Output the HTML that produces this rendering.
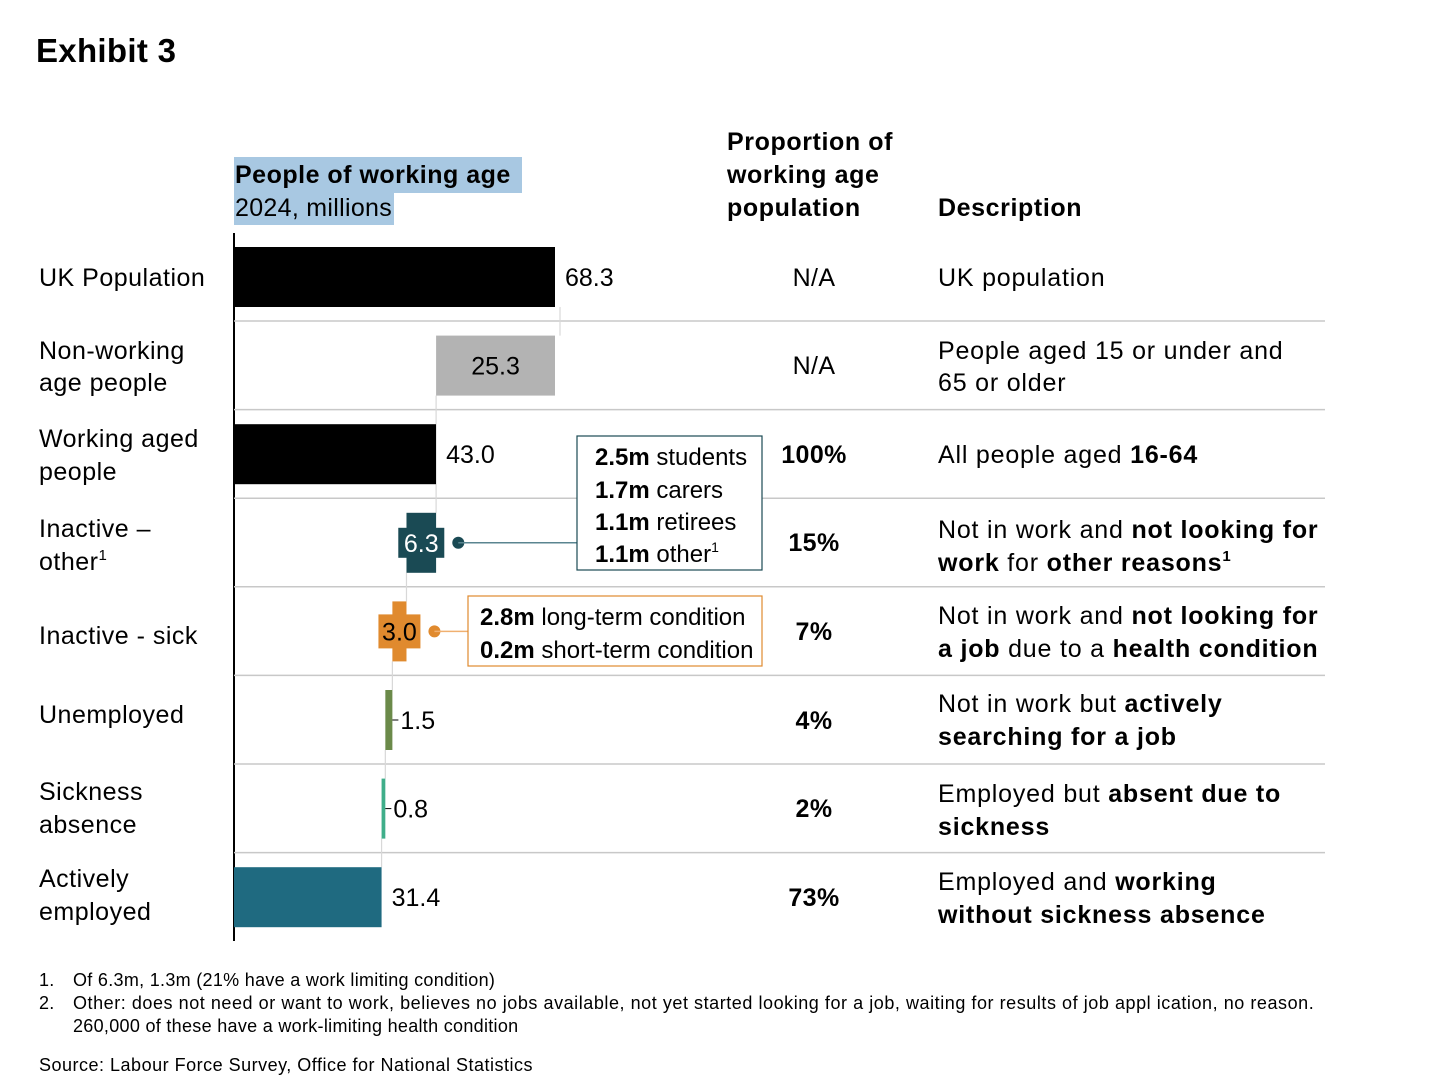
<!DOCTYPE html>
<html><head><meta charset="utf-8"><style>
html,body{margin:0;padding:0;background:#fff;}
svg{display:block;font-family:"Liberation Sans",Arial,sans-serif;}
</style></head><body>
<svg id="chart" width="1456" height="1084" viewBox="0 0 1456 1084">
<text x="36" y="62" font-size="33" font-weight="bold" letter-spacing="0.3">Exhibit 3</text>
<rect x="234" y="157" width="288" height="36" fill="#a8c8e2"/>
<rect x="234" y="192" width="160" height="33" fill="#a8c8e2"/>
<text x="235" y="183" font-size="25" font-weight="bold" letter-spacing="0.5">People of working age</text>
<text x="235" y="216" font-size="25" letter-spacing="0.3">2024, millions</text>
<g font-size="25" font-weight="bold" letter-spacing="0.6">
<text x="727" y="150">Proportion of</text><text x="727" y="183">working age</text><text x="727" y="216">population</text></g>
<text x="938" y="216" font-size="25" font-weight="bold" letter-spacing="0.6">Description</text>
<line x1="234" y1="233" x2="234" y2="941" stroke="#000" stroke-width="2"/>
<g id="seps"></g>
<g id="bars"></g>
<g id="labels" font-size="25"></g>

<g>
<rect x="577" y="436" width="185" height="134" fill="#fff" stroke="#1a4a54" stroke-width="1.2"/>
<g font-size="24"><text x="595" y="465"><tspan font-weight="bold">2.5m</tspan> students</text>
<text x="595" y="498"><tspan font-weight="bold">1.7m</tspan> carers</text>
<text x="595" y="530"><tspan font-weight="bold">1.1m</tspan> retirees</text>
<text x="595" y="562"><tspan font-weight="bold">1.1m</tspan> other<tspan font-size="14" dy="-10">1</tspan></text></g></g>
<g>
<rect x="468" y="596" width="294" height="70" fill="#fff" stroke="#e08a2e" stroke-width="1.2"/>
<g font-size="24"><text x="480" y="625"><tspan font-weight="bold">2.8m</tspan> long-term condition</text>
<text x="480" y="658"><tspan font-weight="bold">0.2m</tspan> short-term condition</text></g></g>

<g font-size="25" text-anchor="middle" letter-spacing="0.4">
<text x="814" y="286">N/A</text><text x="814" y="374">N/A</text>
<text x="814" y="463" font-weight="bold">100%</text><text x="814" y="551" font-weight="bold">15%</text>
<text x="814" y="640" font-weight="bold">7%</text><text x="814" y="729" font-weight="bold">4%</text>
<text x="814" y="817" font-weight="bold">2%</text><text x="814" y="906" font-weight="bold">73%</text></g>

<g font-size="25" letter-spacing="0.8">
<text x="938" y="286">UK population</text>
<text x="938" y="359">People aged 15 or under and</text><text x="938" y="391">65 or older</text>
<text x="938" y="463">All people aged  <tspan font-weight="bold">16-64</tspan></text>
<text x="938" y="538">Not in work and  <tspan font-weight="bold">not looking for</tspan></text>
<text x="938" y="571"><tspan font-weight="bold">work</tspan> for <tspan font-weight="bold">other reasons</tspan><tspan font-size="15" dy="-10" font-weight="bold">1</tspan></text>
<text x="938" y="624">Not in work and  <tspan font-weight="bold">not looking for</tspan></text>
<text x="938" y="657"><tspan font-weight="bold">a job</tspan> due to a  <tspan font-weight="bold">health condition</tspan></text>
<text x="938" y="712">Not in work but  <tspan font-weight="bold">actively</tspan></text>
<text x="938" y="745" font-weight="bold">searching for a job</text>
<text x="938" y="802">Employed but  <tspan font-weight="bold">absent due to</tspan></text>
<text x="938" y="835" font-weight="bold">sickness</text>
<text x="938" y="890">Employed and  <tspan font-weight="bold">working</tspan></text>
<text x="938" y="923" font-weight="bold">without sickness absence</text></g>

<g font-size="25" letter-spacing="0.5">
<text x="39" y="286">UK Population</text>
<text x="39" y="359">Non-working</text><text x="39" y="391">age people</text>
<text x="39" y="447">Working aged</text><text x="39" y="480">people</text>
<text x="39" y="537">Inactive –</text><text x="39" y="570">other<tspan font-size="15" dy="-10">1</tspan></text>
<text x="39" y="644">Inactive  - sick</text>
<text x="39" y="723">Unemployed</text>
<text x="39" y="800">Sickness</text><text x="39" y="833">absence</text>
<text x="39" y="887">Actively</text><text x="39" y="920">employed</text></g>

<g font-size="18" letter-spacing="0.3">
<text x="39" y="986">1.</text><text x="73" y="986">Of 6.3m, 1.3m (21% have a work limiting condition)</text>
<text x="39" y="1009">2.</text><text x="73" y="1009" letter-spacing="0.55">Other: does not need or want to work, believes no jobs available, not yet started looking for a job, waiting for results of job appl   ication, no reason.</text>
<text x="73" y="1032">260,000 of these have a work-limiting health condition</text>
<text x="39" y="1071" letter-spacing="0.5">Source: Labour Force Survey, Office for National Statistics</text></g>
</svg>
<script>
const categories=["UK Population","Non-working age people","Working aged people","Inactive – other","Inactive - sick","Unemployed","Sickness absence","Actively employed"];
const values=[68.3,25.3,43.0,6.3,3.0,1.5,0.8,31.4];
const valueLabels=["68.3","25.3","43.0","6.3","3.0","1.5","0.8","31.4"];
const colors=["#000","#b3b3b3","#000","#1a4a54","#e08a2e","#6b8a4a","#3fae8a","#1f6a80"];
const NS="http://www.w3.org/2000/svg";
const x0=234, scale=321/68.3;
const X=v=>x0+v*scale;
const rowY=i=>277+i*88.6;
const starts=[];let cur=values[2];
values.forEach((v,i)=>{
 if(i===0||i===2||i===values.length-1) starts.push(0);
 else if(i===1) starts.push(values[0]-v);
 else {cur-=v;starts.push(cur);}
});
function mk(tag,attrs,parent){const e=document.createElementNS(NS,tag);for(const k in attrs)e.setAttribute(k,attrs[k]);parent.appendChild(e);return e;}
const seps=document.getElementById('seps'),bars=document.getElementById('bars'),labels=document.getElementById('labels');
for(let i=0;i<values.length-1;i++){
 const y=rowY(i)+44;
 const l=mk('line',{x1:234,x2:1325,y1:y,y2:y,stroke:'#c8c8c8','stroke-width':1.5},seps);
 
 
 const cx=i===0?X(values[0])+5:(i===2?X(values[2]):X(starts[i]));
 const c=mk('line',{x1:cx,x2:cx,y1:rowY(i)+30,y2:rowY(i+1)-30,stroke:'#d8d8d8','stroke-width':1.2},seps);
 
 
}
values.forEach((v,i)=>{
 const xs=X(starts[i]),w=Math.max(v*scale,1.5),cy=rowY(i);
 const r=mk('rect',{x:xs,y:cy-30,width:w,height:60,fill:colors[i]},bars);
 
 
 let t;
 if(i===1){t=mk('text',{x:xs+w/2,y:cy+9,'text-anchor':'middle'},labels);}
 else if(i===3||i===4){
  const bw=i===3?46:42,bh=i===3?30:34;
  const b=mk('rect',{x:xs+w/2-bw/2,y:cy-bh/2,width:bw,height:bh,fill:colors[i]},bars);
  
  
  const dx=xs+w/2+bw/2+14;
  const d=mk('circle',{cx:dx,cy:cy,r:6,fill:colors[i]},bars);
  
  
  const ln=mk('line',{x1:dx,x2:i===3?577:468,y1:cy,y2:cy,stroke:i===3?'#5a8590':'#f0b070','stroke-width':1.5},bars);
  
  
  t=mk('text',{x:xs+w/2,y:cy+9,'text-anchor':'middle',fill:i===3?'#fff':'#000'},labels);
 } else if(i===5||i===6){
  const tk=mk('line',{x1:xs+w,x2:xs+w+6,y1:cy,y2:cy,stroke:'#000','stroke-width':1},bars);
  
  
  t=mk('text',{x:xs+w+8,y:cy+9},labels);
 } else {t=mk('text',{x:xs+w+10,y:cy+9},labels);}
 t.textContent=valueLabels[i];
 
 
});
</script>
</body></html>
